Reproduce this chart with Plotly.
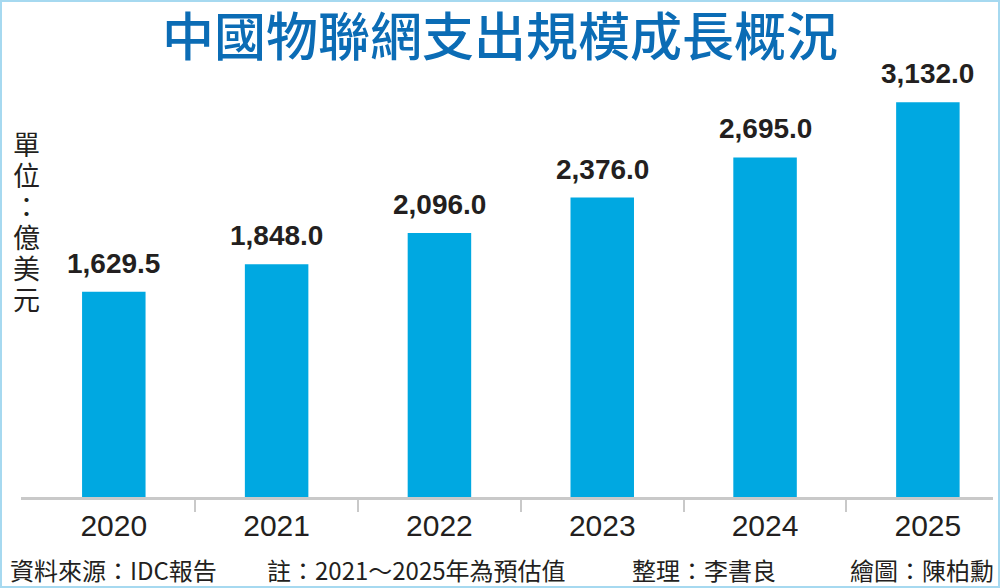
import plotly.graph_objects as go

# data
years = ['2020', '2021', '2022', '2023', '2024', '2025']
spending = [1629.5, 1848.0, 2096.0, 2376.0, 2695.0, 3132.0]

title_text = '中國物聯網支出規模成長概況'
unit_chars = ['單', '位', '：', '億', '美', '元']
footer_notes = [
    ('資料來源：IDC報告', 8),
    ('註：2021～2025年為預估值', 265),
    ('整理：李書良', 630),
    ('繪圖：陳柏勳', 848),
]

W, H = 1000, 588
L, R, T, B = 21, 7, 60, 91
PW, PH = W - L - R, H - T - B

CJK = 'Noto Sans CJK TC'
NUM = 'Liberation Sans'
BAR_COLOR = '#00a8e1'
TEXT_COLOR = '#231f20'


def px_x(px):
    return (px - L) / PW


def px_y(py):
    return (H - B - py) / PH


fig = go.Figure(go.Bar(
    x=list(range(len(years))),
    y=spending,
    width=0.39,
    marker=dict(color=BAR_COLOR, line=dict(width=0)),
    hoverinfo='skip',
))

annotations = []

# value labels above bars
for i, v in enumerate(spending):
    annotations.append(dict(
        x=i, y=v, xref='x', yref='y', text=f'{v:,.1f}',
        showarrow=False, yanchor='bottom', yshift=11,
        font=dict(family=NUM, size=28, color=TEXT_COLOR, weight='bold'),
    ))

# vertical unit label
for k, ch in enumerate(unit_chars):
    annotations.append(dict(
        x=px_x(26), y=px_y(143 + 31 * k), xref='paper', yref='paper',
        text=ch, showarrow=False, xanchor='center', yanchor='middle',
        font=dict(family=CJK, size=27, color=TEXT_COLOR),
    ))

# footer
for txt, xpos in footer_notes:
    annotations.append(dict(
        x=px_x(xpos), y=px_y(569), xref='paper', yref='paper',
        text=txt, showarrow=False, xanchor='left', yanchor='middle',
        font=dict(family=CJK, size=24, color=TEXT_COLOR),
    ))

fig.update_layout(
    width=W, height=H,
    margin=dict(l=L, r=R, t=T, b=B),
    paper_bgcolor='white',
    plot_bgcolor='white',
    showlegend=False,
    title=dict(
        text=title_text, x=0.5, xanchor='center',
        y=1 - 38 / H, yanchor='middle',
        font=dict(family=CJK, size=52, color='#0b6cb5', weight=500),
    ),
    annotations=annotations,
    shapes=[dict(
        type='rect', xref='paper', yref='paper',
        x0=px_x(1), x1=px_x(W - 1), y0=px_y(H - 1), y1=px_y(1),
        line=dict(color='#a6d9f0', width=2),
    )],
)

fig.update_xaxes(
    range=[-0.57, 5.40],
    tickmode='array',
    tickvals=list(range(len(years))),
    ticktext=years,
    ticks='',
    ticklabelstandoff=0,
    tickfont=dict(family=NUM, size=30, color=TEXT_COLOR),
    showline=True, linecolor='#c9c9c9', linewidth=3,
    showgrid=False, zeroline=False,
    minor=dict(
        tickmode='array',
        tickvals=[i + 0.5 for i in range(len(years) - 1)],
        ticks='outside', ticklen=12, tickwidth=2, tickcolor='#c9c9c9',
        showgrid=False,
    ),
    fixedrange=True,
)

fig.update_yaxes(
    range=[0, 3468],
    visible=False,
    fixedrange=True,
)

fig.write_html(
    'out.html',
    config={'displayModeBar': False},
    post_script="document.body.style.margin='0';",
)
